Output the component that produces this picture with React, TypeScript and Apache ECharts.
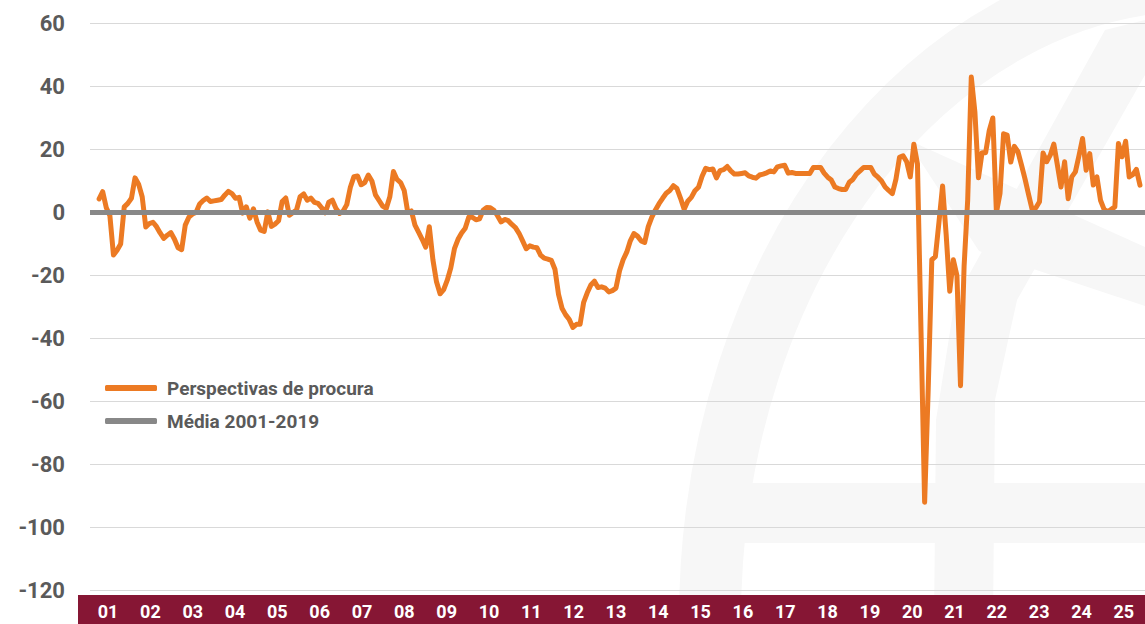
import React, { useEffect, useRef } from 'react';
import * as echarts from 'echarts';

// Year labels on the red band
const years = ['01','02','03','04','05','06','07','08','09','10','11','12','13','14','15','16','17','18','19','20','21','22','23','24','25'];

// Monthly values, Jan 2001 .. Mar 2025
const perspectivas = [
  4.3, 6.6, 1.5, -1, -13.5, -12, -10, 1.8, 2.9, 4.5,
  11, 9, 5, -4.6, -3.5, -3.1, -4.5, -6.5, -8.2, -7.2,
  -6.4, -8.5, -11.2, -11.8, -4, -1.5, -0.5, 0, 2.7, 3.8,
  4.6, 3.5, 3.7, 3.9, 4.1, 5.5, 6.7, 6, 4.5, 4.8,
  -0.2, 1.8, -1.8, 1.2, -3, -5.6, -6, 0.2, -4.4, -3.7,
  -2.6, 3.5, 4.6, -0.9, 0, 0.8, 5, 5.9, 3.9, 4.6,
  3.2, 2.9, 1.5, -0.1, 3.3, 3.9, 1.3, -0.3, 0.5, 2.5,
  8, 11.4, 11.6, 8.8, 9.5, 11.9, 10, 5.6, 3.8, 2,
  1.3, 5, 13, 10.5, 9.5, 7, 0, 0.5, -4, -6.2,
  -8.5, -11, -4.5, -15, -22, -25.8, -24.5, -21.5, -17.5, -11.5,
  -8.5, -6.5, -5, -1.4, -1.5, -2.3, -2, 0.7, 1.6, 1.5,
  0.7, -1, -3, -2.2, -2.6, -3.8, -4.8, -6.6, -9, -11.5,
  -10.6, -11, -11.2, -13.5, -14.5, -14.8, -15.2, -18, -26, -30.5,
  -32.5, -34, -36.5, -35.5, -35.5, -28.5, -25.5, -23, -21.8, -23.8,
  -23.6, -24, -25.2, -24.8, -24, -18.5, -15, -12.6, -9, -6.7,
  -7.5, -9, -9.5, -4.5, -1.5, 0.8, 2.8, 4.5, 6.1, 7,
  8.5, 7.6, 4.5, 1, 3.6, 4.8, 6.9, 8, 11.5, 14,
  13.6, 13.8, 11, 13.3, 13.6, 14.6, 13.2, 12.2, 12.2, 12.4,
  12.6, 11.6, 11.2, 10.9, 11.9, 12.2, 12.6, 13.2, 12.9, 14.5,
  14.8, 15, 12.5, 12.7, 12.4, 12.4, 12.4, 12.4, 12.4, 14.3,
  14.3, 14.3, 12.5, 11.2, 10.3, 8.1, 7.6, 7.3, 7.3, 9.6,
  10.5, 12.2, 13.2, 14.3, 14.3, 14.3, 12.2, 11.2, 10, 8.1,
  7, 6, 10.5, 17.5, 18, 16.1, 11.3, 21.7, 15.5, -38,
  -92, -56, -15, -14, -3, 8.4, -7, -25, -15, -20,
  -55, -17, 4, 43, 32, 11, 19, 19, 26, 30,
  0, 6, 25, 24.6, 16, 21, 19.3, 15, 10.5, 5.5,
  0.7, 1.5, 3.4, 18.9, 16.1, 18.2, 21.7, 15, 8.1, 16.1,
  4.4, 11.3, 12.9, 18, 23.5, 13.4, 18.7, 8.7, 11.3, 3.9,
  1, 0.2, 1, 1.8, 21.9, 17.7, 22.6, 11.3, 12, 13.7, 8.7,
];

// Average 2001-2019
const media = [0];

const yMin = -120;
const yMax = 60;
const yStep = 20;

const ORANGE = '#EC7A23';
const GREY = '#888888';
const BAND = '#861634';
const WM = '#f7f7f7';
const TEXT = '#5a5a5a';

export default function App() {
  const ref = useRef<HTMLDivElement>(null);

  useEffect(() => {
    if (!ref.current) return;
    const chart = echarts.init(ref.current, undefined, { renderer: 'svg' });
    const option: any = {
      animation: false,
      backgroundColor: '#ffffff',
      textStyle: { fontFamily: 'Roboto' },
      graphic: [
        {
          type: 'ellipse', silent: true, z: -10,
          shape: { cx: 1200, cy: 620, rx: 490, ry: 640 },
          style: { fill: 'none', stroke: WM, lineWidth: 62 },
        },
        {
          type: 'polygon', silent: true, z: -10,
          shape: { points: [[906, 139], [1145, 247], [1145, 306], [979, 251]] },
          style: { fill: WM },
        },
        {
          type: 'polygon', silent: true, z: -10,
          shape: { points: [[1105, 30], [1145, 20], [1145, 75], [1017, 300], [995, 400], [993, 624], [934, 624], [936, 420], [955, 300]] },
          style: { fill: WM },
        },
        {
          type: 'rect', silent: true, z: -10,
          shape: { x: 739, y: 483, width: 406, height: 60 },
          style: { fill: WM },
        },
        {
          type: 'rect', silent: true, z: 0,
          shape: { x: 78, y: 595, width: 1067, height: 29 },
          style: { fill: BAND },
        },
      ],
      legend: {
        orient: 'vertical',
        left: 100,
        top: 372,
        itemWidth: 52,
        itemHeight: 6,
        itemGap: 11,
        icon: 'roundRect',
        textStyle: { color: TEXT, fontSize: 19, fontWeight: 'bold', lineHeight: 22, padding: [0, 0, 0, 5] },
        data: ['Perspectivas de procura', 'Média 2001-2019'],
      },
      grid: [
        { left: 90, top: 23.5, width: 1055, height: 567 },
        { left: 86.9, top: 595, width: 1074.5, height: 29 },
      ],
      xAxis: [
        { type: 'value', gridIndex: 0, min: -2.54, max: 291.4, show: false },
        {
          type: 'category', gridIndex: 1, data: years, position: 'top',
          axisLine: { show: false }, axisTick: { show: false }, splitLine: { show: false },
          axisLabel: { inside: true, margin: 16, verticalAlign: 'middle', color: '#ffffff', fontWeight: 'bold', fontSize: 18, interval: 0 },
        },
      ],
      yAxis: [
        {
          type: 'value', gridIndex: 0, min: yMin, max: yMax, interval: yStep,
          axisLine: { show: false }, axisTick: { show: false },
          axisLabel: { color: TEXT, fontSize: 22, fontWeight: 'bold', margin: 25 },
          splitLine: { lineStyle: { color: '#d9d9d9', width: 1 } },
        },
        { type: 'value', gridIndex: 1, show: false },
      ],
      series: [
        {
          name: 'Média 2001-2019', type: 'line', xAxisIndex: 0, yAxisIndex: 0,
          data: [], symbol: 'none', z: 2,
          lineStyle: { color: GREY, width: 5 }, itemStyle: { color: GREY },
          markLine: {
            symbol: 'none', silent: true, label: { show: false },
            lineStyle: { color: GREY, width: 5, type: 'solid' },
            emphasis: { disabled: true },
            data: [{ yAxis: media[0] }],
          },
        },
        {
          name: 'Perspectivas de procura', type: 'line', xAxisIndex: 0, yAxisIndex: 0,
          data: perspectivas.map((v, i) => [i, v]),
          symbol: 'none', showSymbol: false, z: 3,
          lineStyle: { color: ORANGE, width: 5, cap: 'round', join: 'round' },
          itemStyle: { color: ORANGE },
        },
      ],
    };
    chart.setOption(option);
    return () => chart.dispose();
  }, []);

  return <div ref={ref} style={{ position: 'fixed', left: 0, top: 0, width: 1145, height: 624 }} />;
}
